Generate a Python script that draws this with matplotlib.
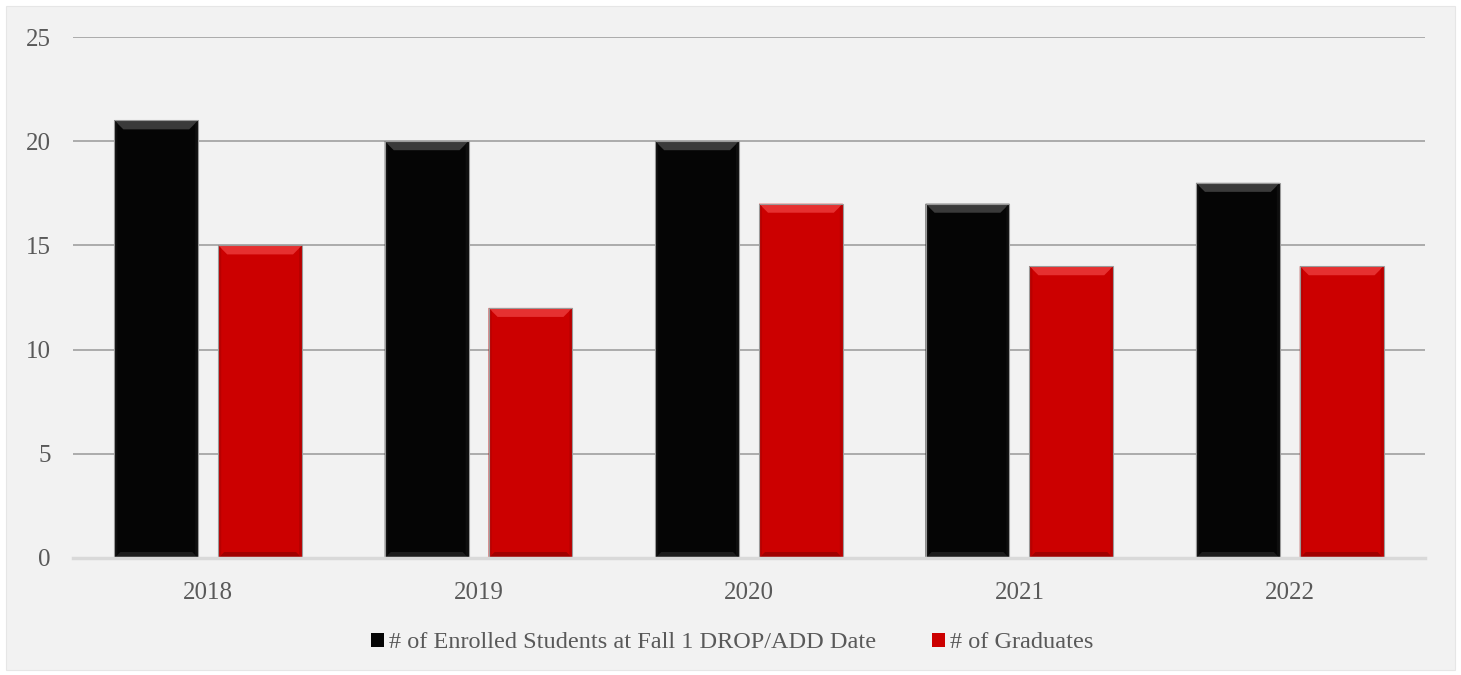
import matplotlib
matplotlib.use("Agg")
import matplotlib.pyplot as plt
from matplotlib.patches import Rectangle, Polygon
import numpy as np

years = ["2018", "2019", "2020", "2021", "2022"]
enrolled = [21, 20, 20, 17, 18]
graduates = [15, 12, 17, 14, 14]
series_names = ["# of Enrolled Students at Fall 1 DROP/ADD Date", "# of Graduates"]
yticks = [0, 5, 10, 15, 20, 25]

plt.rcParams['font.family'] = ['Liberation Serif', 'DejaVu Serif']

W, H = 14.61, 6.75
fig = plt.figure(figsize=(W, H), dpi=100)
fig.patch.set_facecolor('white')
fig.patches.append(Rectangle((6/1461, 5/675), 1449/1461, 664/675, transform=fig.transFigure,
                             facecolor='#f2f2f2', edgecolor='#e6e6e6', lw=0.8, zorder=-10))

ax = fig.add_axes([73/1461, 117/675, 1352/1461, 521/675])
ax.set_facecolor('none')
x = np.arange(len(years))
bw = 0.31
off = 0.192
b1 = ax.bar(x - off, enrolled, bw, color='#050505', zorder=3, label=series_names[0])
b2 = ax.bar(x + off, graduates, bw, color='#cc0000', zorder=3, label=series_names[1])

ax.set_xlim(-0.5, len(years) - 0.5)
ax.set_ylim(0, 25)
ax.set_yticks(yticks)
ax.set_xticks(x)
ax.set_xticklabels(years)
ax.yaxis.grid(True, color='#a6a6a6', lw=1.3, zorder=0)
ax.set_axisbelow(True)
for s in ['top', 'right', 'left']:
    ax.spines[s].set_visible(False)
ax.spines['bottom'].set_color('#d9d9d9')
ax.spines['bottom'].set_linewidth(2.5)
ax.spines['bottom'].set_zorder(4)
ax.tick_params(axis='both', length=0, labelsize=18, labelcolor='#595959')
ax.tick_params(axis='y', pad=16)
ax.tick_params(axis='x', pad=17)

# bevel effects in pixel space
fig.canvas.draw()
inv = ax.transData.inverted()
def bevel(bars, top_col, bot_col, side_col):
    for b in bars:
        (x0, y0), (x1, y1) = ax.transData.transform([(b.get_x(), 0), (b.get_x() + b.get_width(), b.get_height())])
        t = 9; bt = 6; sd = 3
        top = [(x0, y1), (x1, y1), (x1 - t, y1 - t), (x0 + t, y1 - t)]
        bot = [(x0, y0), (x1, y0), (x1 - bt, y0 + bt), (x0 + bt, y0 + bt)]
        lft = [(x0, y0), (x0 + sd, y0 + sd), (x0 + sd, y1 - sd), (x0, y1)]
        rgt = [(x1, y0), (x1 - sd, y0 + sd), (x1 - sd, y1 - sd), (x1, y1)]
        for pts, c in [(top, top_col), (bot, bot_col), (lft, side_col), (rgt, side_col)]:
            ax.add_patch(Polygon(inv.transform(pts), closed=True, facecolor=c, edgecolor='none', zorder=3.5))
        ax.add_patch(Rectangle((b.get_x(), 0), b.get_width(), b.get_height(), fill=False,
                               edgecolor='#9a9a9a', lw=0.8, zorder=3.6))

bevel(b1, '#3a3a3a', '#1c1c1c', '#0e0e0e')
bevel(b2, '#e63030', '#a00000', '#b80000')

leg = fig.legend(handles=[b1, b2], labels=series_names, loc='center', bbox_to_anchor=(732/1461, 1 - 643/675),
                 ncol=2, frameon=False, fontsize=17.5, handlelength=0.55, handleheight=0.55,
                 handletextpad=0.2, columnspacing=2.3)
for t in leg.get_texts():
    t.set_color('#595959')

fig.savefig('out.png', dpi=100, facecolor=fig.get_facecolor())
